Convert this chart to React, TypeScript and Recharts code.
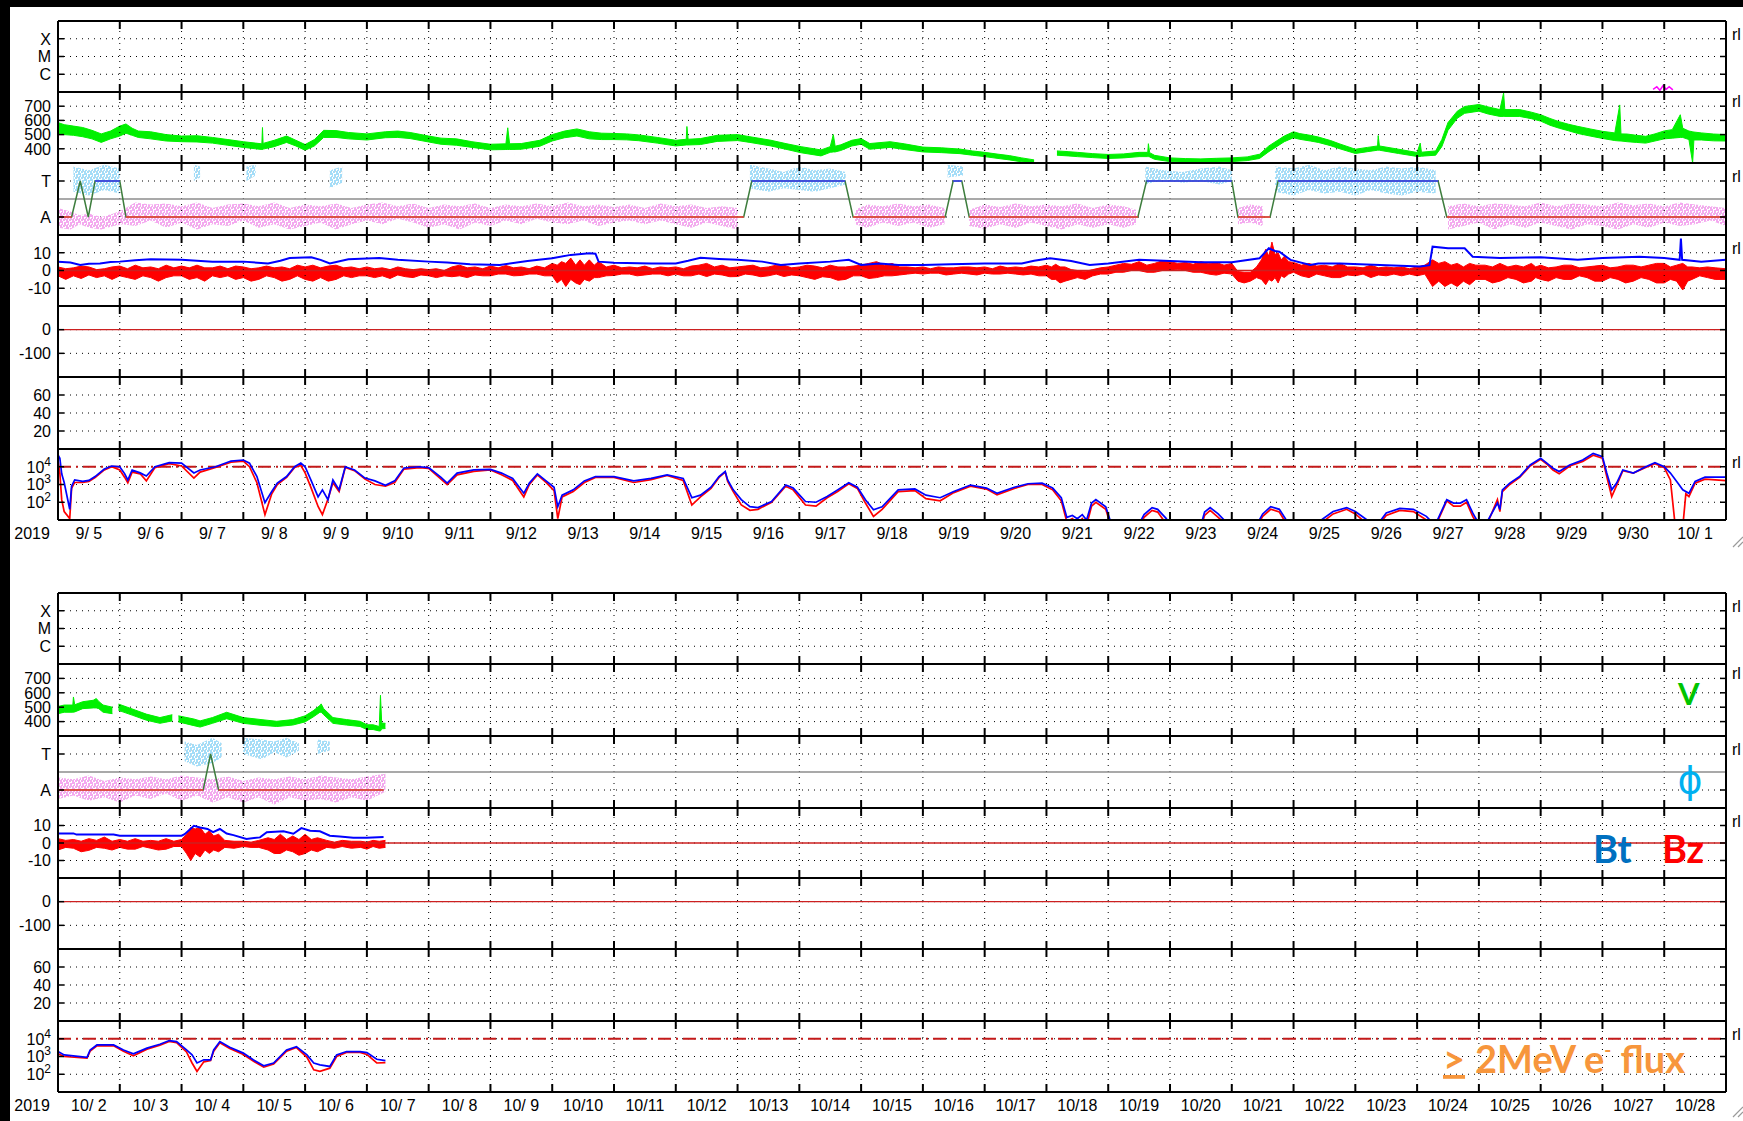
import React from 'react';
import { ComposedChart, Line, Area, XAxis, YAxis, CartesianGrid, ReferenceLine } from 'recharts';

// ---------------- tick labels / categories ----------------
const YEAR = '2019';
const TOP_DAY_LABELS = ['9/ 5', '9/ 6', '9/ 7', '9/ 8', '9/ 9', '9/10', '9/11', '9/12', '9/13', '9/14', '9/15', '9/16', '9/17', '9/18', '9/19', '9/20', '9/21', '9/22', '9/23', '9/24', '9/25', '9/26', '9/27', '9/28', '9/29', '9/30', '10/ 1'];
const BOT_DAY_LABELS = ['10/ 2', '10/ 3', '10/ 4', '10/ 5', '10/ 6', '10/ 7', '10/ 8', '10/ 9', '10/10', '10/11', '10/12', '10/13', '10/14', '10/15', '10/16', '10/17', '10/18', '10/19', '10/20', '10/21', '10/22', '10/23', '10/24', '10/25', '10/26', '10/27', '10/28'];
const DAY_BOUNDARIES = [1, 2, 3, 4, 5, 6, 7, 8, 9, 10, 11, 12, 13, 14, 15, 16, 17, 18, 19, 20, 21, 22, 23, 24, 25, 26];
const AXIS_TICKS = [0.5, 1, 1.5, 2, 2.5, 3, 3.5, 4, 4.5, 5, 5.5, 6, 6.5, 7, 7.5, 8, 8.5, 9, 9.5, 10, 10.5, 11, 11.5, 12, 12.5, 13, 13.5, 14, 14.5, 15, 15.5, 16, 16.5, 17, 17.5, 18, 18.5, 19, 19.5, 20, 20.5, 21, 21.5, 22, 22.5, 23, 23.5, 24, 24.5, 25, 25.5, 26, 26.5];
const XRAY_CLASS: Record<number, string> = { 1: 'C', 2: 'M', 3: 'X' };
const SECTOR_CLASS: Record<number, string> = { 1: 'A', 3: 'T' };
const FLUX_EXP: Record<number, string> = { 100: '2', 1000: '3', 10000: '4' };

const XRAY_TICKS = [1, 2, 3];
const V_TICKS = [400, 500, 600, 700];
const PHI_TICKS = [1, 3];
const B_TICKS = [-10, 0, 10];
const DST_TICKS = [-100, 0];
const KP_TICKS = [20, 40, 60];
const FLUX_TICKS = [100, 1000, 10000];

// ---------------- top panel data (t = days since 9/5 00UT) ----------------
const XRAY_TOP = [[25.82, 0.15], [25.88, 0.3], [25.93, 0.1], [25.98, 0.35], [26.03, 0.15], [26.08, 0.3], [26.14, 0.12]];

// solar wind speed: [t, low, high]
const V_TOP = [[0, 510, 585], [0.1, 500, 570], [0.25, 495, 560], [0.4, 485, 550], [0.55, 470, 530], [0.7, 445, 505], [0.85, 470, 525], [1.0, 490, 560], [1.1, 510, 575], [1.2, 495, 545], [1.3, 480, 525], [1.5, 470, 520], [1.75, 455, 500], [2.0, 450, 490], [2.25, 448, 492], [2.5, 440, 480], [2.75, 425, 465], [3.0, 410, 450], [3.2, 400, 440], [3.3, 395, 435], [3.31, 395, 550], [3.32, 398, 438], [3.5, 415, 460], [3.7, 445, 490], [3.85, 420, 460], [4.0, 390, 430], [4.15, 420, 465], [4.3, 480, 530], [4.5, 480, 528], [4.7, 470, 515], [5.0, 462, 505], [5.3, 478, 520], [5.5, 480, 525], [5.7, 472, 515], [6.0, 448, 490], [6.2, 432, 475], [6.45, 425, 470], [6.7, 410, 450], [7.0, 393, 432], [7.25, 395, 435], [7.28, 395, 548], [7.31, 395, 435], [7.5, 397, 437], [7.8, 418, 460], [8.0, 455, 500], [8.2, 478, 525], [8.4, 490, 540], [8.6, 470, 520], [8.8, 465, 510], [9.0, 465, 508], [9.2, 463, 505], [9.4, 457, 498], [9.7, 440, 480], [10.0, 420, 460], [10.17, 427, 467], [10.18, 427, 557], [10.2, 427, 467], [10.4, 430, 472], [10.67, 452, 495], [11.0, 458, 500], [11.2, 445, 485], [11.54, 420, 460], [11.8, 395, 435], [12.03, 372, 415], [12.35, 350, 392], [12.5, 375, 415], [12.55, 378, 500], [12.58, 378, 418], [12.67, 388, 428], [12.85, 420, 460], [13.0, 432, 472], [13.14, 397, 437], [13.47, 410, 450], [13.7, 395, 435], [14.0, 378, 412], [14.3, 373, 407], [14.6, 366, 398], [14.8, 355, 385], [15.0, 345, 375], [15.2, 333, 363], [15.4, 322, 352], [15.6, 308, 336], [15.8, 300, 322], [15.9, null, null], [16.17, 355, 385], [16.35, 350, 380], [16.5, 345, 375], [16.75, 338, 366], [17.0, 332, 360], [17.25, 336, 364], [17.5, 345, 375], [17.64, 345, 375], [17.65, 345, 436], [17.67, 343, 373], [17.75, 326, 354], [18.0, 310, 336], [18.25, 305, 331], [18.5, 303, 329], [18.75, 307, 333], [19.0, 310, 336], [19.25, 317, 343], [19.45, 332, 362], [19.6, 380, 420], [19.7, 408, 448], [19.85, 450, 490], [20.0, 478, 520], [20.1, 467, 507], [20.27, 455, 495], [20.4, 445, 483], [20.6, 422, 458], [20.75, 400, 434], [21.0, 367, 397], [21.2, 380, 410], [21.36, 390, 420], [21.37, 390, 493], [21.39, 390, 420], [21.7, 367, 397], [22.0, 346, 374], [22.05, 346, 440], [22.07, 348, 376], [22.3, 355, 385], [22.4, 415, 465], [22.5, 530, 585], [22.65, 615, 665], [22.77, 650, 698], [23.0, 665, 712], [23.15, 645, 695], [23.34, 628, 676], [23.4, 628, 793], [23.42, 628, 676], [23.66, 628, 676], [23.85, 612, 658], [24.0, 595, 640], [24.15, 566, 614], [24.3, 545, 591], [24.45, 527, 573], [24.6, 508, 558], [24.8, 490, 540], [25.0, 473, 523], [25.2, 458, 512], [25.28, 455, 709], [25.3, 455, 505], [25.4, 450, 504], [25.55, 445, 495], [25.7, 440, 488], [25.85, 455, 505], [26.0, 470, 526], [26.13, 475, 535], [26.26, 480, 640], [26.3, 480, 545], [26.4, 465, 525], [26.46, 300, 520], [26.48, 462, 518], [26.6, 462, 512], [26.8, 456, 504], [27.0, 455, 500]];

const SECTOR_TOP = [[0, 1], [0.22, 1], [0.36, 3], [0.49, 1], [0.6, 3], [1.0, 3], [1.1, 1], [11.1, 1], [11.23, 3], [12.74, 3], [12.87, 1], [14.36, 1], [14.49, 3], [14.63, 3], [14.75, 1], [17.48, 1], [17.62, 3], [19.0, 3], [19.1, 1], [19.62, 1], [19.75, 3], [22.34, 3], [22.48, 1], [27, 1]];

const PINK_TOP = [[0, 0.4, 1.5], [0.2, 0.3, 1.3], [0.35, 0.6, 1.1], [0.5, 0.4, 1.2], [0.7, 0.3, 1.0], [0.9, 0.5, 1.2], [1.05, 0.6, 1.4], [1.25, 0.5, 1.8], [1.5, 0.8, 1.7], [1.75, 0.4, 1.75], [2.0, 0.7, 1.6], [2.25, 0.3, 1.8], [2.5, 0.6, 1.5], [2.75, 0.5, 1.7], [3.0, 0.8, 1.75], [3.25, 0.4, 1.6], [3.5, 0.6, 1.8], [3.75, 0.3, 1.5], [4.0, 0.5, 1.7], [4.25, 0.7, 1.6], [4.5, 0.3, 1.75], [4.75, 0.6, 1.5], [5.0, 0.8, 1.7], [5.25, 0.6, 1.8], [5.5, 0.9, 1.6], [5.75, 0.7, 1.75], [6.0, 0.4, 1.5], [6.25, 0.6, 1.7], [6.5, 0.3, 1.6], [6.75, 0.7, 1.75], [7.0, 0.5, 1.5], [7.25, 0.8, 1.7], [7.5, 0.6, 1.6], [7.75, 0.9, 1.75], [8.0, 0.7, 1.6], [8.25, 0.6, 1.8], [8.5, 0.8, 1.6], [8.75, 0.5, 1.7], [9.0, 0.7, 1.55], [9.25, 0.8, 1.7], [9.5, 0.6, 1.5], [9.75, 0.8, 1.75], [10.0, 0.6, 1.6], [10.25, 0.4, 1.7], [10.5, 0.7, 1.5], [10.75, 0.5, 1.6], [11.0, 0.3, 1.5], [11.15, null, null], [12.9, 0.6, 1.4], [13.1, 0.4, 1.7], [13.35, 0.7, 1.6], [13.6, 0.5, 1.75], [13.85, 0.7, 1.6], [14.1, 0.4, 1.7], [14.35, 0.6, 1.5], [14.4, null, null], [14.75, 0.5, 1.4], [15.0, 0.35, 1.7], [15.25, 0.6, 1.55], [15.5, 0.4, 1.75], [15.75, 0.7, 1.6], [16.0, 0.5, 1.7], [16.25, 0.3, 1.6], [16.5, 0.6, 1.75], [16.75, 0.4, 1.5], [17.0, 0.6, 1.7], [17.25, 0.4, 1.6], [17.45, 0.6, 1.4], [17.5, null, null], [19.1, 0.6, 1.5], [19.3, 0.7, 1.7], [19.5, 0.5, 1.6], [19.6, null, null], [22.5, 0.3, 1.6], [22.75, 0.5, 1.75], [23.0, 0.7, 1.6], [23.25, 0.3, 1.75], [23.5, 0.6, 1.7], [23.75, 0.4, 1.6], [24.0, 0.7, 1.8], [24.25, 0.5, 1.6], [24.5, 0.3, 1.75], [24.75, 0.6, 1.7], [25.0, 0.5, 1.6], [25.25, 0.3, 1.8], [25.5, 0.6, 1.65], [25.75, 0.4, 1.75], [26.0, 0.7, 1.6], [26.25, 0.5, 1.8], [26.5, 0.6, 1.7], [26.75, 0.8, 1.6], [27, 0.5, 1.5]];

const CYAN_TOP = [[0.25, 2.4, 3.8], [0.5, 2.2, 3.6], [0.75, 2.5, 3.9], [1.0, 2.3, 3.7], [1.05, null, null], [2.2, 3.0, 3.9], [2.3, 3.2, 3.8], [2.35, null, null], [3.05, 3.0, 3.8], [3.2, 3.3, 3.9], [3.25, null, null], [4.4, 2.6, 3.6], [4.6, 2.9, 3.8], [4.65, null, null], [11.2, 2.6, 3.9], [11.5, 2.4, 3.7], [11.75, 2.6, 3.5], [12.0, 2.5, 3.8], [12.25, 2.4, 3.6], [12.5, 2.6, 3.7], [12.75, 2.8, 3.5], [12.8, null, null], [14.4, 3.2, 3.9], [14.65, 3.3, 3.8], [14.7, null, null], [17.6, 2.8, 3.8], [17.9, 3.1, 3.6], [18.2, 2.9, 3.5], [18.5, 3.0, 3.7], [18.8, 2.8, 3.8], [19.0, 3.0, 3.6], [19.05, null, null], [19.7, 2.4, 3.8], [20.0, 2.2, 3.7], [20.25, 2.5, 3.9], [20.5, 2.3, 3.6], [20.75, 2.4, 3.8], [21.0, 2.2, 3.7], [21.25, 2.5, 3.6], [21.5, 2.3, 3.8], [21.75, 2.2, 3.7], [22.0, 2.4, 3.8], [22.3, 2.3, 3.6], [22.35, null, null]];

const BT_TOP = [[0, 5], [0.2, 4.5], [0.36, 3.1], [0.5, 3.8], [0.68, 4], [0.85, 4.8], [1.0, 5], [1.25, 5.8], [1.5, 6.3], [2.0, 6], [2.5, 5], [3.0, 5], [3.4, 4], [3.6, 5.5], [3.75, 7], [4.1, 7.5], [4.25, 6], [4.4, 4], [4.7, 6.3], [5.2, 7], [5.5, 6], [6.0, 5], [6.3, 4.5], [6.67, 3.5], [7.15, 3.1], [7.6, 5.4], [8.0, 6.9], [8.3, 8.8], [8.6, 9.7], [8.7, 9.5], [8.75, 5], [9.0, 4.4], [9.6, 4], [10.0, 4], [10.2, 5.5], [10.4, 7.2], [10.7, 6.5], [11.0, 6], [11.4, 5], [11.7, 3.1], [12.0, 4], [12.5, 5], [12.8, 6], [13.0, 3.1], [13.3, 4], [13.6, 3.1], [14.0, 3.1], [14.45, 3.5], [15.0, 4], [15.6, 4], [15.8, 5.5], [16.06, 6.9], [16.4, 5.4], [16.7, 3.1], [17.0, 4], [17.5, 6], [18.0, 5.4], [18.5, 4.6], [19.0, 4.6], [19.45, 6.9], [19.6, 12.5], [19.7, 11], [19.77, 10.6], [19.95, 6], [20.27, 3.1], [20.4, 4], [20.75, 4], [21.4, 3.1], [22.05, 2.2], [22.2, 3], [22.25, 13.4], [22.5, 12.5], [22.77, 12.5], [22.9, 7.8], [23.34, 7], [24.0, 7.5], [24.6, 6], [25.0, 7], [25.6, 7.8], [26.0, 7], [26.25, 6], [26.27, 18], [26.29, 6], [26.6, 5], [27, 6]];

// Bz: [t, low, high]
const BZ_TOP = [[0, -3, 2], [0.125, -5, 1], [0.25, -3, 1.5], [0.375, -4.5, 2.5], [0.5, -2.5, 2], [0.625, -4, 0.5], [0.75, -3, 1], [0.875, -5, 2], [1.0, -3, 2.5], [1.125, -4, 1], [1.25, -5, 3], [1.375, -3, 1.5], [1.5, -4, 2], [1.625, -6, 1], [1.75, -4, 3], [1.875, -3, 1.5], [2.0, -3, 2.5], [2.125, -5, 1.5], [2.25, -4, 3], [2.375, -6, 1.5], [2.5, -3, 1.5], [2.625, -4, 2.5], [2.75, -3, 1], [2.875, -5, 2.5], [3.0, -4, 2], [3.125, -6, 1], [3.25, -5, 1.5], [3.375, -3, 2.5], [3.5, -4, 1.5], [3.625, -6, 2], [3.75, -5, 1], [3.875, -3, 3], [4.0, -5, 2], [4.125, -6, 3], [4.25, -4, 1.5], [4.375, -6, 2.5], [4.5, -5, 3], [4.625, -3, 1.5], [4.75, -4, 2], [4.875, -3, 1], [5.0, -3, 2], [5.125, -4, 1], [5.25, -3, 1.5], [5.375, -4.5, 0.5], [5.5, -2.5, 2], [5.625, -3.5, 1], [5.75, -4, 0.5], [5.875, -2.5, 1], [6.0, -3, 0.5], [6.125, -4, 1], [6.25, -3, 0], [6.375, -3.5, 2], [6.5, -3, 3], [6.625, -4, 1.5], [6.75, -2.5, 2], [6.875, -3, 1], [7.0, -3, 2.5], [7.125, -2, 1.5], [7.25, -2, 2.8], [7.375, -3, 1.5], [7.5, -2.8, 2], [7.625, -2, 1], [7.75, -2, 2.5], [7.875, -3, 1.5], [8.0, -3, 4], [8.08, -7, 3], [8.15, -5, 5], [8.22, -9, 4], [8.3, -5, 7], [8.38, -7, 3], [8.45, -8, 6], [8.52, -5, 3], [8.6, -6, 6], [8.68, -4, 3], [8.75, -4, 5], [8.875, -3, 2], [9.0, -2.8, 3], [9.125, -2, 1.5], [9.25, -2, 2], [9.375, -3, 1.5], [9.5, -2.5, 2.5], [9.625, -2, 1], [9.75, -2, 2], [9.875, -3, 1.5], [10.0, -2, 2], [10.125, -3, 1], [10.25, -3, 2.5], [10.375, -2, 3], [10.5, -3.4, 4], [10.625, -2, 2], [10.75, -2.5, 3], [10.875, -3.5, 1.5], [11.0, -3.4, 2], [11.125, -2, 2.5], [11.25, -2.5, 3], [11.375, -3.5, 1.5], [11.5, -3, 2], [11.625, -2, 3], [11.75, -3.4, 3], [11.875, -2.5, 1.5], [12.0, -3, 2], [12.125, -4, 3], [12.25, -5, 2.5], [12.375, -3.5, 1.5], [12.5, -4, 3], [12.625, -5.5, 2], [12.75, -5, 2], [12.875, -3, 2.5], [13.0, -3, 3], [13.125, -4.5, 4], [13.25, -4, 5], [13.375, -3, 3], [13.5, -3, 4], [13.625, -2.5, 2], [13.75, -2, 2], [13.875, -1.5, 1.5], [14.0, -2, 2], [14.125, -1.5, 1], [14.25, -1.5, 2], [14.375, -2.5, 1.5], [14.5, -2, 1.5], [14.625, -1.5, 2], [14.75, -2, 2], [14.875, -2.5, 1.5], [15.0, -1.5, 2], [15.125, -2, 1], [15.25, -2, 2.5], [15.375, -1.5, 1.5], [15.5, -2, 2], [15.625, -2.5, 1.5], [15.75, -2, 2.5], [15.875, -3, 2], [16.0, -3, 3], [16.08, -5, 2], [16.15, -5, 3.5], [16.22, -7, 2], [16.3, -6, 2], [16.4, -5, 0.5], [16.5, -4, 0], [16.625, -5, -0.5], [16.75, -3, 0.5], [16.875, -2, 1.5], [17.0, -2, 2], [17.125, -1, 3], [17.25, -1, 4], [17.375, 0, 3.5], [17.5, 0, 5], [17.625, -1, 3], [17.75, -1, 4], [17.875, 0, 5.5], [18.0, 0, 5], [18.125, 0.5, 4], [18.25, 0, 4.5], [18.375, -1, 3.5], [18.5, -1, 5], [18.625, -2, 4], [18.75, -2.6, 4.5], [18.875, -1.5, 3], [19.0, -2, 4], [19.1, -6, -0.6], [19.2, -7, -1], [19.3, -6, -1], [19.4, -4, 2], [19.48, -5, 6], [19.55, -8, 12], [19.6, -5, 8], [19.65, -6, 16], [19.7, -4, 9], [19.75, -7, 10], [19.8, -3, 6], [19.85, -4, 8], [19.92, -2, 5], [20.0, -1, 4.5], [20.125, -3, 3], [20.25, -4, 4], [20.375, -2, 2.5], [20.5, -3, 3], [20.625, -4, 2], [20.75, -4, 4], [20.875, -2.5, 2], [21.0, -3, 2], [21.125, -2, 1.5], [21.25, -4, 3], [21.375, -2.5, 1.5], [21.5, -3, 2], [21.625, -2, 1.5], [21.75, -3, 2], [21.875, -2, 1], [22.0, -3, 2], [22.125, -2, 3], [22.25, -9, 6], [22.35, -6, 4], [22.45, -9, 5], [22.55, -7, 3], [22.65, -9, 4], [22.75, -6, 2], [22.85, -8, 4], [22.95, -5, 3], [23.1, -5, 3], [23.22, -7, 2], [23.34, -6, 4], [23.47, -4, 2], [23.6, -5, 3], [23.72, -7, 2], [23.85, -6, 4], [23.92, -4, 2], [24.0, -5, 3], [24.125, -6, 1.5], [24.25, -4, 2], [24.375, -5, 3], [24.5, -5, 3], [24.625, -3, 1.5], [24.75, -4, 2], [24.875, -6, 2.5], [25.0, -6, 3], [25.125, -4, 1.5], [25.25, -5, 2], [25.375, -7, 3], [25.5, -6, 3], [25.625, -4, 2], [25.75, -5, 3], [25.875, -7, 4], [26.0, -7, 4], [26.1, -5, 2], [26.2, -6, 3], [26.3, -11, 4], [26.38, -6, 2], [26.45, -5, 2], [26.575, -3, 1.5], [26.7, -4, 2], [26.825, -5, 1.5], [27, -5, 1]];

const FLUX_BLUE_TOP = [[0, 46000], [0.03, 30000], [0.06, 4000], [0.1, 1300], [0.19, 40], [0.22, 800], [0.27, 1800], [0.4, 1500], [0.5, 1700], [0.6, 2800], [0.75, 7400], [0.87, 11000], [1.0, 10000], [1.08, 4000], [1.13, 1800], [1.2, 6600], [1.33, 4500], [1.43, 3000], [1.57, 10000], [1.8, 17000], [2.0, 16000], [2.2, 4500], [2.3, 6600], [2.55, 10000], [2.8, 21000], [3.0, 24000], [3.1, 16000], [3.22, 2800], [3.35, 95], [3.46, 400], [3.55, 1200], [3.7, 2800], [3.83, 10000], [3.93, 16000], [4.0, 10000], [4.1, 1600], [4.21, 200], [4.28, 500], [4.37, 140], [4.45, 1800], [4.55, 500], [4.65, 10000], [4.8, 6600], [4.97, 2300], [5.13, 1600], [5.3, 900], [5.45, 1600], [5.6, 8500], [5.85, 10000], [6.0, 9000], [6.2, 2500], [6.3, 1200], [6.46, 4400], [6.73, 6600], [7.0, 7100], [7.18, 4400], [7.36, 2200], [7.54, 320], [7.63, 1200], [7.76, 4000], [7.9, 1600], [8.03, 700], [8.09, 56], [8.16, 250], [8.34, 500], [8.52, 1600], [8.7, 2800], [9.0, 2800], [9.32, 1600], [9.6, 2200], [9.86, 3500], [10.12, 2200], [10.26, 180], [10.4, 250], [10.57, 700], [10.7, 2800], [10.8, 5400], [10.84, 1800], [10.93, 500], [11.06, 140], [11.2, 56], [11.33, 50], [11.55, 110], [11.78, 930], [11.9, 630], [12.1, 110], [12.27, 100], [12.45, 210], [12.62, 500], [12.8, 1260], [12.94, 700], [13.07, 140], [13.2, 38], [13.34, 56], [13.6, 500], [13.87, 560], [14.05, 250], [14.28, 180], [14.5, 400], [14.77, 930], [15.03, 630], [15.2, 320], [15.48, 700], [15.7, 1100], [15.93, 1180], [16.1, 630], [16.24, 180], [16.33, 14], [16.42, 18], [16.5, 12], [16.58, 20], [16.65, 10], [16.73, 90], [16.8, 140], [16.96, 56], [17.05, 6], [17.5, 6], [17.58, 20], [17.71, 50], [17.8, 40], [17.94, 12], [18.0, 5], [18.5, 5], [18.56, 28], [18.65, 50], [18.78, 22], [18.96, 5], [19.4, 5], [19.5, 22], [19.63, 56], [19.77, 40], [19.9, 8], [20.3, 5], [20.43, 9], [20.64, 30], [20.86, 50], [21.0, 30], [21.19, 10], [21.35, 5], [21.5, 25], [21.72, 45], [21.94, 40], [22.15, 16], [22.29, 5], [22.48, 140], [22.59, 90], [22.7, 90], [22.8, 140], [22.9, 25], [23.0, 6], [23.15, 10], [23.3, 90], [23.34, 40], [23.38, 500], [23.5, 1200], [23.66, 2800], [23.83, 12600], [24.0, 30000], [24.1, 16000], [24.2, 8300], [24.3, 5400], [24.47, 12600], [24.68, 24000], [24.85, 57000], [25.0, 37000], [25.07, 4400], [25.15, 500], [25.23, 1200], [25.33, 6600], [25.5, 4400], [25.7, 10000], [25.85, 17000], [26.0, 10000], [26.1, 4400], [26.22, 1200], [26.3, 500], [26.4, 320], [26.5, 1480], [26.66, 2600], [27, 2600]];

const FLUX_RED_TOP = [[0, 24000], [0.03, 4400], [0.06, 140], [0.1, 30], [0.19, 12], [0.22, 600], [0.27, 1300], [0.4, 1300], [0.5, 1500], [0.6, 2500], [0.75, 6600], [0.87, 10000], [1.0, 6600], [1.08, 2500], [1.13, 1260], [1.2, 5000], [1.33, 4000], [1.43, 1600], [1.57, 9000], [1.8, 15000], [2.0, 11000], [2.2, 2300], [2.3, 5000], [2.55, 9000], [2.8, 18000], [3.0, 21000], [3.1, 10000], [3.22, 1260], [3.35, 20], [3.46, 300], [3.55, 1000], [3.7, 2500], [3.83, 9000], [3.93, 12000], [4.0, 4500], [4.1, 600], [4.21, 58], [4.28, 20], [4.37, 150], [4.45, 1260], [4.55, 400], [4.65, 9000], [4.8, 6000], [4.97, 2000], [5.13, 1000], [5.3, 800], [5.45, 1300], [5.6, 7400], [5.85, 9000], [6.0, 8000], [6.2, 2000], [6.3, 1000], [6.46, 3500], [6.73, 5500], [7.0, 6600], [7.18, 3500], [7.36, 1700], [7.54, 200], [7.63, 1000], [7.76, 3500], [7.9, 1300], [8.03, 450], [8.09, 12], [8.16, 200], [8.34, 400], [8.52, 1300], [8.7, 2500], [9.0, 2500], [9.32, 1300], [9.6, 1900], [9.86, 3200], [10.12, 1700], [10.26, 70], [10.4, 200], [10.57, 600], [10.7, 2500], [10.8, 5000], [10.84, 1500], [10.93, 400], [11.06, 70], [11.2, 35], [11.33, 40], [11.55, 100], [11.78, 800], [11.9, 500], [12.1, 70], [12.27, 60], [12.45, 180], [12.62, 400], [12.8, 1100], [12.94, 600], [13.07, 90], [13.2, 16], [13.34, 40], [13.6, 400], [13.87, 450], [14.05, 160], [14.28, 120], [14.5, 350], [14.77, 800], [15.03, 550], [15.2, 260], [15.48, 600], [15.7, 1000], [15.93, 1000], [16.1, 500], [16.24, 120], [16.33, 8], [16.42, 12], [16.5, 6], [16.58, 12], [16.65, 5], [16.73, 60], [16.8, 100], [16.96, 40], [17.05, 4], [17.5, 4], [17.58, 14], [17.71, 35], [17.8, 28], [17.94, 6], [18.0, 4], [18.5, 4], [18.56, 18], [18.65, 35], [18.78, 14], [18.96, 4], [19.4, 4], [19.5, 16], [19.63, 40], [19.77, 28], [19.9, 5], [20.3, 4], [20.43, 6], [20.64, 22], [20.86, 40], [21.0, 22], [21.19, 6], [21.35, 4], [21.5, 18], [21.72, 35], [21.94, 30], [22.15, 10], [22.29, 4], [22.48, 120], [22.59, 60], [22.7, 60], [22.8, 100], [22.9, 16], [23.0, 4], [23.15, 8], [23.3, 140], [23.34, 30], [23.38, 400], [23.5, 1000], [23.66, 2500], [23.83, 11000], [24.0, 26000], [24.1, 14000], [24.2, 6600], [24.3, 4000], [24.47, 11000], [24.68, 20000], [24.85, 45000], [25.0, 30000], [25.07, 2800], [25.15, 210], [25.23, 900], [25.33, 6000], [25.5, 4400], [25.7, 9000], [25.85, 15000], [26.0, 9000], [26.1, 1800], [26.18, 4], [26.3, 4], [26.35, 300], [26.4, 210], [26.5, 1200], [26.66, 2000], [27, 1660]];

// ---------------- bottom panel data (t = days since 10/2 00UT) ----------------
const V_BOT = [[0, 455, 505], [0.1, 465, 515], [0.24, 465, 515], [0.25, 465, 571], [0.27, 467, 517], [0.4, 490, 538], [0.57, 495, 548], [0.62, 495, 560], [0.66, 490, 540], [0.73, 465, 515], [0.88, 455, 500], [0.92, null, null], [0.98, 478, 522], [1.2, 445, 488], [1.43, 410, 452], [1.65, 388, 428], [1.85, 405, 448], [1.88, null, null], [1.95, 398, 440], [2.2, 372, 418], [2.3, 362, 405], [2.5, 388, 428], [2.73, 420, 465], [3.0, 388, 428], [3.27, 375, 415], [3.54, 366, 402], [3.8, 376, 414], [4.0, 398, 440], [4.13, 432, 475], [4.24, 465, 512], [4.26, 465, 523], [4.3, 448, 490], [4.45, 388, 428], [4.67, 376, 414], [4.89, 366, 402], [5.0, 345, 378], [5.1, 345, 378], [5.2, 335, 366], [5.22, 335, 583], [5.24, 350, 390], [5.3, 352, 388]];

const SECTOR_BOT = [[0, 1], [2.35, 1], [2.47, 3], [2.6, 1], [5.27, 1]];

const PINK_BOT = [[0, 0.5, 1.7], [0.25, 0.7, 1.6], [0.5, 0.4, 1.8], [0.75, 0.6, 1.5], [1.0, 0.3, 1.7], [1.25, 0.7, 1.6], [1.5, 0.5, 1.75], [1.75, 0.8, 1.6], [2.0, 0.4, 1.8], [2.25, 0.7, 1.7], [2.5, 0.3, 1.6], [2.75, 0.6, 1.75], [3.0, 0.3, 1.5], [3.25, 0.6, 1.7], [3.5, 0.2, 1.6], [3.75, 0.6, 1.75], [4.0, 0.4, 1.6], [4.25, 0.5, 1.8], [4.5, 0.3, 1.7], [4.75, 0.6, 1.6], [5.0, 0.4, 1.75], [5.3, 0.9, 1.9]];

const CYAN_BOT = [[2.05, 2.6, 3.7], [2.25, 2.3, 3.5], [2.5, 2.5, 3.9], [2.65, 2.8, 3.6], [2.7, null, null], [3.0, 3.0, 3.9], [3.3, 2.7, 3.8], [3.5, 3.1, 3.7], [3.7, 2.8, 3.9], [3.9, 3.2, 3.6], [3.95, null, null], [4.2, 3.0, 3.8], [4.4, 3.2, 3.7], [4.45, null, null]];

const BT_BOT = [[0, 5.5], [0.25, 5.5], [0.3, 4.8], [0.9, 4.8], [1.0, 4.2], [2.0, 4.2], [2.05, 5], [2.2, 9.8], [2.3, 8.9], [2.42, 8], [2.51, 6.2], [2.62, 8], [2.73, 5.4], [2.84, 4.5], [3.05, 2.3], [3.27, 3.2], [3.38, 6.2], [3.65, 6.7], [3.81, 5.3], [3.94, 8.5], [4.08, 7], [4.24, 6.7], [4.4, 4.2], [4.56, 3.7], [4.78, 3], [5.0, 3], [5.27, 3.4]];

const BZ_BOT = [[0, -4, 2.5], [0.125, -2.5, 1.5], [0.25, -3, 2], [0.375, -5, 1], [0.5, -4.2, 2.5], [0.625, -2.5, 1.5], [0.75, -3, 3.4], [0.875, -4, 1], [1.0, -2.5, 2], [1.125, -3.5, 1], [1.25, -3.5, 2.5], [1.375, -2, 1], [1.5, -3, 1.5], [1.625, -4, 1], [1.75, -3.5, 2.5], [1.875, -2, 1], [2.0, -2, 2], [2.08, -6, 5], [2.15, -10, 9], [2.22, -6, 8], [2.3, -8, 9], [2.38, -4, 5], [2.45, -6, 7], [2.52, -4, 4], [2.6, -5, 5], [2.7, -2.5, 1.5], [2.85, -3, 1], [3.0, -2, 1], [3.125, -2.5, 0.5], [3.25, -2.5, 1.5], [3.4, -4, 3], [3.5, -6, 2], [3.6, -6, 5], [3.7, -4, 2], [3.8, -5, 4], [3.9, -7, 2], [4.0, -6, 5], [4.1, -4, 2], [4.2, -5, 3], [4.35, -2.5, 1.5], [4.475, -3, 0.5], [4.6, -2, 1.5], [4.75, -3, 1], [4.9, -2.5, 1], [5.0, -3.5, 0.5], [5.1, -2, 1.5], [5.2, -3, 1], [5.3, -2.5, 1.5]];

const FLUX_BLUE_BOT = [[0, 1900], [0.1, 1230], [0.47, 910], [0.52, 2340], [0.63, 4470], [0.9, 4470], [1.06, 2340], [1.22, 1400], [1.44, 2950], [1.65, 4900], [1.8, 7900], [1.92, 6900], [2.08, 2340], [2.17, 1230], [2.25, 430], [2.36, 650], [2.47, 650], [2.52, 2340], [2.62, 6900], [2.78, 3300], [3.0, 1550], [3.16, 650], [3.33, 300], [3.49, 430], [3.7, 2340], [3.86, 3600], [4.03, 1230], [4.14, 430], [4.24, 340], [4.4, 275], [4.51, 1230], [4.67, 1900], [4.89, 1900], [5.0, 1660], [5.16, 700], [5.3, 590]];

const FLUX_RED_BOT = [[0, 1400], [0.1, 1000], [0.47, 800], [0.52, 2000], [0.63, 4000], [0.9, 4000], [1.06, 2000], [1.22, 1100], [1.44, 2600], [1.65, 4300], [1.8, 7000], [1.92, 6000], [2.08, 1800], [2.17, 430], [2.25, 145], [2.36, 500], [2.47, 600], [2.52, 2000], [2.62, 6000], [2.78, 2800], [3.0, 1300], [3.16, 550], [3.33, 250], [3.49, 380], [3.7, 2000], [3.86, 3200], [4.03, 900], [4.14, 178], [4.24, 145], [4.4, 220], [4.51, 1000], [4.67, 1700], [4.89, 1700], [5.0, 1300], [5.16, 430], [5.3, 450]];

// ---------------- layout / style constants ----------------
const W = 1743;
const H = 1121;
const DAYS = 27;
const FONT = '"Liberation Sans", Arial, Helvetica, sans-serif';
const LEGEND_FONT = 'Lato, "Open Sans", sans-serif';
const TOP_BOUNDS = [21, 92, 163, 235, 306, 377, 449, 520];
const BOT_BOUNDS = [593, 664, 736, 808, 878, 949, 1021, 1092];
const AXIS_LINE = { stroke: '#000', strokeWidth: 2 };
const PINK = '#f4a9ef';
const CYAN = '#a3ddf8';
const SPECK = '#d4d4d4';

// ---------------- helpers ----------------
const pts = (a: any[]) => a.map(([t, v]) => ({ t, v }));
const rng = (a: any[]) => a.map(([t, lo, hi]) => ({ t, r: lo == null ? null : [lo, hi] }));
const level = (a: any[], lvl: number) => a.map(([t, v]) => ({ t, v: v === lvl ? v : null }));

function LeftTick(props: any) {
  const { x, y, payload, fmt } = props;
  return (
    <g>
      <line x1={x} x2={x + 6} y1={y} y2={y} stroke="#000" strokeWidth={1.5} />
      <text x={x - 7} y={y} dy="0.36em" textAnchor="end" fontFamily={FONT} fontSize={16} fill="#000">
        {fmt(payload.value)}
      </text>
    </g>
  );
}

function RightTick(props: any) {
  const { x, y, payload, rl } = props;
  return (
    <g>
      <line x1={x - 6} x2={x} y1={y} y2={y} stroke="#000" strokeWidth={1.5} />
      {rl === payload.value ? (
        <text x={x + 6} y={y + 1} fontFamily={FONT} fontSize={16} fill="#000">rl</text>
      ) : null}
    </g>
  );
}

// bottom x-axis tick: day boundaries -> inward tick marks top & bottom; day centres -> date label
function DayTick(props: any) {
  const { x, y, payload, labels, h } = props;
  const v = payload.value;
  if (Number.isInteger(v)) {
    return (
      <g>
        <line x1={x} x2={x} y1={y} y2={y - 8} stroke="#000" strokeWidth={2} />
        <line x1={x} x2={x} y1={y - h} y2={y - h + 8} stroke="#000" strokeWidth={2} />
      </g>
    );
  }
  if (!labels) return <g />;
  const i = Math.floor(v);
  return (
    <g>
      <text x={x} y={y + 13} dy="0.36em" textAnchor="middle" fontFamily={FONT} fontSize={16} fill="#000">
        {labels[i]}
      </text>
      {i === 0 ? (
        <text x={x - 39} y={y + 13} dy="0.36em" textAnchor="end" fontFamily={FONT} fontSize={16} fill="#000">
          {YEAR}
        </text>
      ) : null}
    </g>
  );
}

const NoTick = () => <g />;

function Row({ y0, y1, domain, ticks, log, fmt, rl, labels, children }: any) {
  const padT = 10;
  const padB = labels ? 34 : 10;
  const h = y1 - y0;
  const scale = log ? 'log' : 'linear';
  return (
    <div style={{ position: 'absolute', left: 0, top: y0 - padT }}>
      <ComposedChart
        width={W}
        height={h + padT + padB}
        margin={{ top: padT - 1, right: 0, bottom: padB - 1, left: 0 }}
      >
        <CartesianGrid stroke="#000" strokeWidth={1} strokeDasharray="1 5" vertical={false} />
        {DAY_BOUNDARIES.map((d) => (
          <ReferenceLine key={`d${d}`} x={d} stroke="#000" strokeWidth={1} strokeDasharray="1 5" />
        ))}
        <XAxis
          xAxisId={0}
          dataKey="t"
          type="number"
          domain={[0, DAYS]}
          ticks={AXIS_TICKS}
          orientation="bottom"
          height={1}
          tickSize={0}
          tickMargin={0}
          interval={0}
          allowDataOverflow
          axisLine={AXIS_LINE}
          tickLine={false}
          tick={(p: any) => <DayTick {...p} h={h} labels={labels} />}
        />
        <XAxis
          xAxisId="top"
          type="number"
          domain={[0, DAYS]}
          ticks={DAY_BOUNDARIES}
          orientation="top"
          height={1}
          tickSize={0}
          tick={NoTick}
          interval={0}
          allowDataOverflow
          axisLine={AXIS_LINE}
          tickLine={false}
        />
        <YAxis
          yAxisId={0}
          type="number"
          domain={domain}
          scale={scale}
          ticks={ticks}
          width={58}
          tickSize={0}
          tickMargin={0}
          interval={0}
          allowDataOverflow
          axisLine={AXIS_LINE}
          tickLine={false}
          tick={(p: any) => <LeftTick {...p} fmt={fmt} />}
        />
        <YAxis
          yAxisId="r"
          orientation="right"
          type="number"
          domain={domain}
          scale={scale}
          ticks={ticks}
          width={17}
          tickSize={0}
          tickMargin={0}
          interval={0}
          allowDataOverflow
          axisLine={AXIS_LINE}
          tickLine={false}
          tick={(p: any) => <RightTick {...p} rl={rl} />}
        />
        {children}
      </ComposedChart>
    </div>
  );
}

function Speckle({ id, color }: any) {
  return (
    <pattern id={id} width="6" height="6" patternUnits="userSpaceOnUse">
      <rect x="0" y="0" width="2" height="4" fill={color} />
      <rect x="2" y="2" width="1" height="3" fill={color} />
      <rect x="3" y="0" width="2" height="2" fill={color} />
      <rect x="4" y="3" width="2" height="3" fill={color} />
      <rect x="1" y="5" width="2" height="1" fill={color} />
      <rect x="5" y="0" width="1" height="1" fill={SPECK} />
    </pattern>
  );
}

function Panel({ b, labels, id, xray, v, sector, pink, cyan, bt, bz, fluxBlue, fluxRed }: any) {
  return (
    <>
      <Row y0={b[0]} y1={b[1]} domain={[0, 4]} ticks={XRAY_TICKS} fmt={(x: number) => XRAY_CLASS[x]} rl={3}>
        {xray ? (
          <Line data={pts(xray)} dataKey="v" stroke="#ff00ff" strokeWidth={1.5} dot={false} activeDot={false} isAnimationActive={false} />
        ) : null}
      </Row>
      <Row y0={b[1]} y1={b[2]} domain={[300, 800]} ticks={V_TICKS} fmt={(x: number) => String(x)} rl={700}>
        <Area data={rng(v)} dataKey="r" type="linear" stroke="#00f000" strokeWidth={1} fill="#00f000" fillOpacity={1} connectNulls={false} isAnimationActive={false} activeDot={false} />
      </Row>
      <Row y0={b[2]} y1={b[3]} domain={[0, 4]} ticks={PHI_TICKS} fmt={(x: number) => SECTOR_CLASS[x]} rl={3}>
        <defs>
          <Speckle id={`pink-${id}`} color={PINK} />
          <Speckle id={`cyan-${id}`} color={CYAN} />
        </defs>
        <ReferenceLine y={2} stroke="#8c8c8c" strokeWidth={1.5} />
        <Area data={rng(pink)} dataKey="r" type="linear" stroke="none" fill={`url(#pink-${id})`} fillOpacity={1} connectNulls={false} isAnimationActive={false} activeDot={false} />
        <Area data={rng(cyan)} dataKey="r" type="linear" stroke="none" fill={`url(#cyan-${id})`} fillOpacity={1} connectNulls={false} isAnimationActive={false} activeDot={false} />
        <Line data={pts(sector)} dataKey="v" stroke="#3d7d3d" strokeWidth={1.5} dot={false} activeDot={false} isAnimationActive={false} />
        <Line data={level(sector, 1)} dataKey="v" stroke="#ff3b3b" strokeWidth={1.5} dot={false} activeDot={false} connectNulls={false} isAnimationActive={false} />
        <Line data={level(sector, 3)} dataKey="v" stroke="#3a3aff" strokeWidth={1.5} dot={false} activeDot={false} connectNulls={false} isAnimationActive={false} />
      </Row>
      <Row y0={b[3]} y1={b[4]} domain={[-20, 20]} ticks={B_TICKS} fmt={(x: number) => String(x)} rl={10}>
        <ReferenceLine y={0} stroke="#cc2020" strokeWidth={1.3} />
        <Line data={pts(bt)} dataKey="v" stroke="#0000ff" strokeWidth={2} dot={false} activeDot={false} isAnimationActive={false} />
        <Area data={rng(bz)} dataKey="r" type="linear" stroke="#ff0000" strokeWidth={1} fill="#ff0000" fillOpacity={1} isAnimationActive={false} activeDot={false} />
      </Row>
      <Row y0={b[4]} y1={b[5]} domain={[-200, 100]} ticks={DST_TICKS} fmt={(x: number) => String(x)}>
        <ReferenceLine y={0} stroke="#cc2020" strokeWidth={1.3} />
      </Row>
      <Row y0={b[5]} y1={b[6]} domain={[0, 80]} ticks={KP_TICKS} fmt={(x: number) => String(x)} />
      <Row
        y0={b[6]}
        y1={b[7]}
        domain={[10, 100000]}
        log
        ticks={FLUX_TICKS}
        rl={10000}
        labels={labels}
        fmt={(x: number) => (
          <>
            <tspan>10</tspan>
            <tspan dy={-7} fontSize={12}>{FLUX_EXP[x]}</tspan>
          </>
        )}
      >
        <ReferenceLine y={10000} stroke="#c41a1a" strokeWidth={2} strokeDasharray="13 5 2 5" />
        <Line data={pts(fluxRed)} dataKey="v" stroke="#ff0000" strokeWidth={1.7} dot={false} activeDot={false} isAnimationActive={false} />
        <Line data={pts(fluxBlue)} dataKey="v" stroke="#0000ff" strokeWidth={1.7} dot={false} activeDot={false} isAnimationActive={false} />
      </Row>
    </>
  );
}

function Overlay() {
  return (
    <svg width={W} height={H} style={{ position: 'absolute', left: 0, top: 0, pointerEvents: 'none' }}>
      <rect x={0} y={0} width={W} height={7} fill="#000" />
      <rect x={0} y={0} width={10} height={H} fill="#000" />
      <line x1={1733} y1={547} x2={1743} y2={537} stroke="#9a9a9a" strokeWidth={1.2} />
      <line x1={1738} y1={547} x2={1743} y2={542} stroke="#9a9a9a" strokeWidth={1.2} />
      <line x1={1733} y1={1117} x2={1743} y2={1107} stroke="#9a9a9a" strokeWidth={1.2} />
      <line x1={1738} y1={1117} x2={1743} y2={1112} stroke="#9a9a9a" strokeWidth={1.2} />
      <text x={1678} y={705} fontFamily={LEGEND_FONT} fontWeight={700} fontSize={31} fill="#00c400">V</text>
      <text x={1690} y={793} textAnchor="middle" fontFamily='"DejaVu Sans", sans-serif' fontSize={38} fill="#00b0f0">ϕ</text>
      <text x={1593} y={863} fontFamily={LEGEND_FONT} fontWeight={700} fontSize={38} fill="#0070c0">Bt</text>
      <text x={1662} y={863} fontFamily={LEGEND_FONT} fontWeight={700} fontSize={38} fill="#ff0000">Bz</text>
      <text x={1443} y={1073} fontFamily={LEGEND_FONT} fontWeight={700} fontSize={38} fill="#f7963c">
        <tspan textDecoration="underline">&gt;</tspan>
        <tspan dx={10}>2MeV e</tspan>
        <tspan dy={-16} fontSize={19}>-</tspan>
        <tspan dy={16}> flux</tspan>
      </text>
    </svg>
  );
}

export default function App() {
  return (
    <div style={{ position: 'absolute', left: 0, top: 0, width: W, height: H, background: '#fff', overflow: 'hidden' }}>
      <Panel
        b={TOP_BOUNDS}
        labels={TOP_DAY_LABELS}
        id="top"
        xray={XRAY_TOP}
        v={V_TOP}
        sector={SECTOR_TOP}
        pink={PINK_TOP}
        cyan={CYAN_TOP}
        bt={BT_TOP}
        bz={BZ_TOP}
        fluxBlue={FLUX_BLUE_TOP}
        fluxRed={FLUX_RED_TOP}
      />
      <Panel
        b={BOT_BOUNDS}
        labels={BOT_DAY_LABELS}
        id="bot"
        xray={null}
        v={V_BOT}
        sector={SECTOR_BOT}
        pink={PINK_BOT}
        cyan={CYAN_BOT}
        bt={BT_BOT}
        bz={BZ_BOT}
        fluxBlue={FLUX_BLUE_BOT}
        fluxRed={FLUX_RED_BOT}
      />
      <Overlay />
    </div>
  );
}
